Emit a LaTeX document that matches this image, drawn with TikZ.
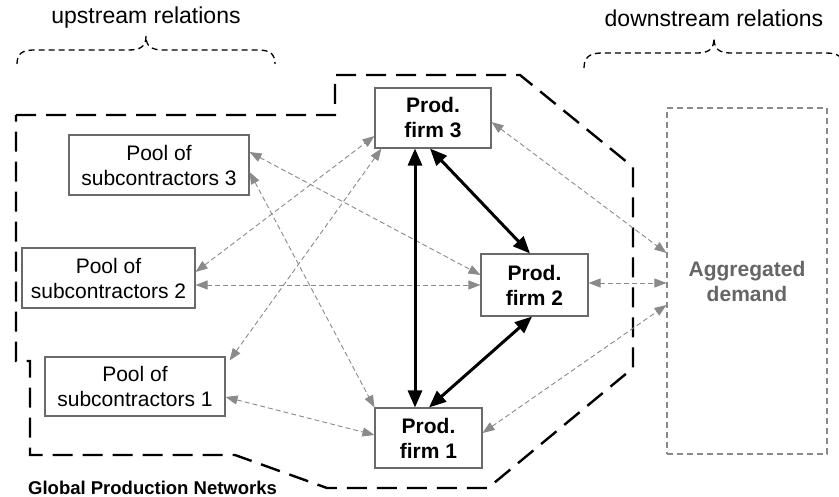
\documentclass[tikz,border=0pt]{standalone}
\usepackage{fontspec}
\setmainfont{Liberation Sans}
\usetikzlibrary{arrows.meta}
\definecolor{boxgray}{HTML}{6A6A6A}
\definecolor{arrowgray}{HTML}{8A8A8A}
\definecolor{textgray}{HTML}{666666}
\tikzset{
  box/.style={draw=boxgray, line width=1.1pt, fill=white, align=center, inner sep=0pt,
              font=\fontsize{21}{25}\selectfont},
  firmbox/.style={box, font=\fontsize{21}{25}\selectfont\bfseries},
  grayarrow/.style={draw=arrowgray, line width=0.9pt, dash pattern=on 5pt off 3pt,
              {Triangle[length=12pt,width=9pt]}-{Triangle[length=12pt,width=9pt]}},
  blackarrow/.style={draw=black, line width=3pt,
              {Triangle[length=17pt,width=14pt]}-{Triangle[length=17pt,width=14pt]}},
  bracestyle/.style={draw=black, line width=1.3pt, dash pattern=on 6pt off 4pt},
  boundary/.style={draw=black, line width=2.4pt, dash pattern=on 20pt off 10pt},
  headtext/.style={font=\fontsize{23}{27}\selectfont, inner sep=0pt}
}
\begin{document}
\begin{tikzpicture}[x=1pt,y=-1pt]
\useasboundingbox (0,0) rectangle (839,497);
\fill[white] (0,0) rectangle (839,497);

% headers and braces
\node[headtext] (up) at (146,18) {upstream relations};
\node[headtext] (down) at (714,18) {downstream relations};
\draw[bracestyle] (17,64) .. controls (17,54) and (22,50) .. (34,50) -- (128,50)
  .. controls (140,50) and (146,47) .. (146,36)
  .. controls (146,47) and (152,50) .. (164,50) -- (258,50)
  .. controls (270,50) and (275,54) .. (275,64);
\begin{scope}
\clip (0,0) rectangle (839,497);
\draw[bracestyle] (584,68) .. controls (584,57) and (590,53) .. (602,53) -- (697,53)
  .. controls (709,53) and (714,49) .. (714,38)
  .. controls (714,49) and (719,53) .. (731,53) -- (826,53)
  .. controls (838,53) and (844,57) .. (844,68);
\end{scope}

% boundary of the global production network
\draw[boundary] (16,115) -- (335,115) -- (335,75) -- (520,75) -- (633,167) -- (633,368)
  -- (488,488) -- (327,488) -- (235,455) -- (30,455) -- (30,361) -- (16,361) -- cycle;
\node[anchor=west, inner sep=0pt, font=\fontsize{18.5}{22}\selectfont\bfseries] (gpn) at (28,488) {Global Production Networks};

% nodes
\node[box, minimum width=180pt, minimum height=60pt] (pool3) at (159,165) {Pool of\\subcontractors 3};
\node[box, minimum width=173pt, minimum height=60pt] (pool2) at (108.5,278) {Pool of\\subcontractors 2};
\node[box, minimum width=180pt, minimum height=59pt] (pool1) at (135,386.5) {Pool of\\subcontractors 1};
\node[firmbox, minimum width=116pt, minimum height=60pt] (firm3) at (433,118) {Prod.\\firm 3};
\node[firmbox, minimum width=107pt, minimum height=62pt] (firm2) at (534.5,285) {Prod.\\firm 2};
\node[firmbox, minimum width=107pt, minimum height=60pt] (firm1) at (428.5,438) {Prod.\\firm 1};
\node[draw=arrowgray, line width=1.1pt, dash pattern=on 6pt off 4pt, minimum width=160pt, minimum height=346pt,
      align=center, inner sep=0pt, text=textgray, font=\fontsize{21}{25}\selectfont\bfseries]
      (agg) at (747,281) {Aggregated\\demand};

% gray relations
\draw[grayarrow] ([yshift=13pt]pool3.east) -- ([yshift=10pt]firm2.west);
\draw[grayarrow] ([yshift=-7pt]pool3.east) -- (firm1.north west);
\draw[grayarrow] ([yshift=6pt]pool2.east) -- ([yshift=-18pt]firm3.west);
\draw[grayarrow] ([yshift=-7pt]pool2.east) -- (firm2.west);
\draw[grayarrow] ([yshift=-4pt,xshift=4pt]pool1.north east) -- ([xshift=7pt]firm3.south west);
\draw[grayarrow] ([yshift=-10.5pt]pool1.east) -- ([yshift=3pt]firm1.west);
\draw[grayarrow] ([yshift=-4pt]firm3.east) -- ([yshift=28pt]agg.west);
\draw[grayarrow] ([yshift=2pt]firm2.east) -- ([yshift=-2pt]agg.west);
\draw[grayarrow] ([yshift=5pt]firm1.east) -- ([yshift=-24pt]agg.west);

% firm relations
\draw[blackarrow] ([xshift=-18pt]firm3.south) -- ([xshift=-13.5pt]firm1.north);
\draw[blackarrow] ([xshift=-3pt]firm3.south) -- ([xshift=-4.5pt]firm2.north);
\draw[blackarrow] ([xshift=-2.5pt]firm2.south) -- ([xshift=0.5pt]firm1.north);
\end{tikzpicture}
\end{document}
